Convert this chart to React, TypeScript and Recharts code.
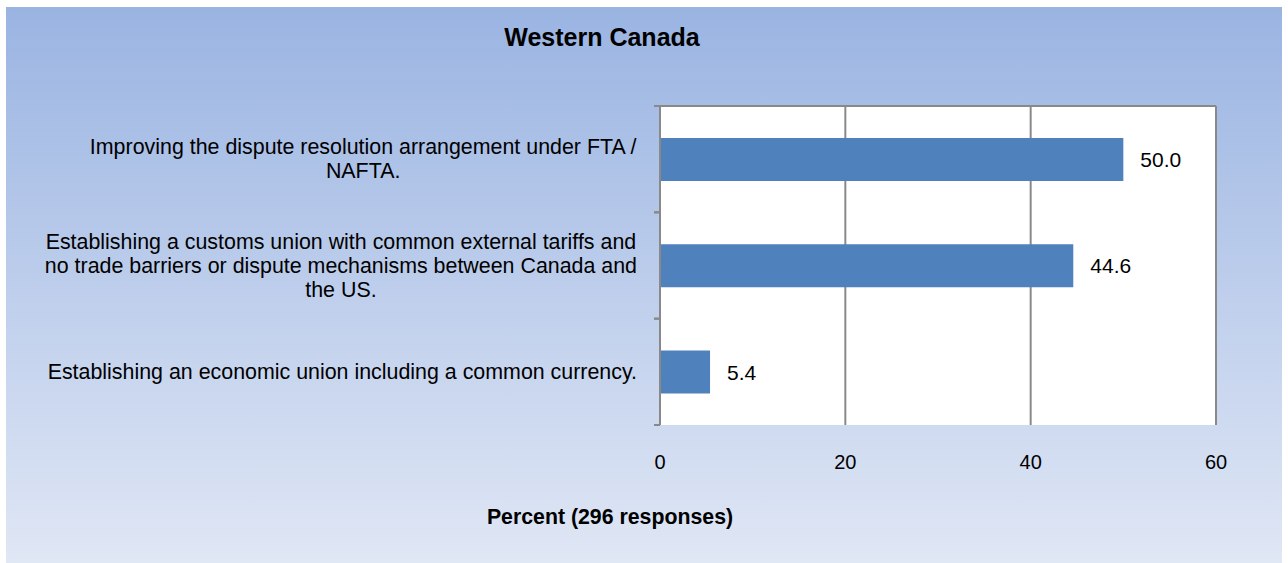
import { BarChart, Bar, XAxis, YAxis, CartesianGrid, LabelList } from "recharts";

const categories = [
  "Improving the dispute resolution arrangement under FTA /\nNAFTA.",
  "Establishing a customs union with common external tariffs and\nno trade barriers or dispute mechanisms between Canada and\nthe US.",
  "Establishing an economic union including a common currency.",
];
const percents = [50.0, 44.6, 5.4];
const xTicks = [0, 20, 40, 60];

const FONT = "'Liberation Sans', Arial, sans-serif";
const W = 1276;
const H = 556;
const PLOT_LEFT = 654;
const PLOT_TOP = 99;
const PLOT_BOTTOM = 418;
const GRID = "#898989";
const LABEL_SIZE = 21.4;

const data = categories.map((name, i) => ({ name, value: percents[i] }));

let ctx: CanvasRenderingContext2D | null = null;
function measure(text: string) {
  if (!ctx) ctx = document.createElement("canvas").getContext("2d");
  if (!ctx) return text.length * 10.5;
  ctx.font = `${LABEL_SIZE}px ${FONT}`;
  return ctx.measureText(text).width;
}

function CategoryTick(props: any) {
  const { y, payload } = props;
  const lines: string[] = String(payload.value).split("\n");
  const widest = Math.max(...lines.map(measure));
  const cx = PLOT_LEFT - 23 - widest / 2;
  const lh = 24;
  const y0 = y - ((lines.length - 1) * lh) / 2;
  const band = (PLOT_BOTTOM - PLOT_TOP) / categories.length;
  return (
    <g>
      <line x1={PLOT_LEFT - 6} x2={PLOT_LEFT} y1={y - band / 2} y2={y - band / 2} stroke={GRID} strokeWidth={2} />
      <line x1={PLOT_LEFT - 6} x2={PLOT_LEFT} y1={y + band / 2} y2={y + band / 2} stroke={GRID} strokeWidth={2} />
      {lines.map((l, i) => (
        <text
          key={i}
          x={cx}
          y={y0 + i * lh}
          textAnchor="middle"
          dominantBaseline="central"
          fontSize={LABEL_SIZE}
          fontFamily={FONT}
          fill="#000"
        >
          {l}
        </text>
      ))}
    </g>
  );
}

function ValueTick(props: any) {
  const { x, payload } = props;
  return (
    <text
      x={x}
      y={PLOT_BOTTOM + 37}
      textAnchor="middle"
      dominantBaseline="central"
      fontSize={20}
      fontFamily={FONT}
      fill="#000"
    >
      {payload.value}
    </text>
  );
}

export default function App() {
  return (
    <div
      style={{
        position: "absolute",
        left: 6,
        top: 7,
        width: W,
        height: H,
        background: "linear-gradient(to bottom, #9ab4e2 0%, #e0e7f5 100%)",
        fontFamily: FONT,
      }}
    >
      <div
        style={{
          position: "absolute",
          left: 596 - 200,
          width: 400,
          top: 16,
          textAlign: "center",
          fontWeight: "bold",
          fontSize: 25,
          color: "#000",
        }}
      >
        Western Canada
      </div>
      <BarChart
        width={W}
        height={H}
        data={data}
        layout="vertical"
        margin={{ top: PLOT_TOP, right: 66, left: 0, bottom: H - PLOT_BOTTOM - 60 }}
        barCategoryGap="30%"
      >
        <CartesianGrid
          fill="#ffffff"
          stroke={GRID}
          strokeWidth={2}
          horizontalPoints={[PLOT_TOP]}
        />
        <XAxis
          type="number"
          domain={[0, 60]}
          ticks={xTicks}
          axisLine={false}
          tickLine={false}
          height={60}
          tick={<ValueTick />}
          interval={0}
        />
        <YAxis
          type="category"
          dataKey="name"
          width={PLOT_LEFT}
          axisLine={{ stroke: GRID, strokeWidth: 2 }}
          tickLine={false}
          tick={<CategoryTick />}
          interval={0}
        />
        <Bar dataKey="value" fill="#4f81bd" isAnimationActive={false}>
          <LabelList
            dataKey="value"
            position="right"
            offset={17}
            fill="#000"
            fontSize={21}
            fontFamily={FONT}
            formatter={(v: any) => Number(v).toFixed(1)}
          />
        </Bar>
      </BarChart>
      <div
        style={{
          position: "absolute",
          left: 604 - 200,
          width: 400,
          top: 498,
          textAlign: "center",
          fontWeight: "bold",
          fontSize: 21.3,
          color: "#000",
        }}
      >
        Percent (296 responses)
      </div>
    </div>
  );
}
